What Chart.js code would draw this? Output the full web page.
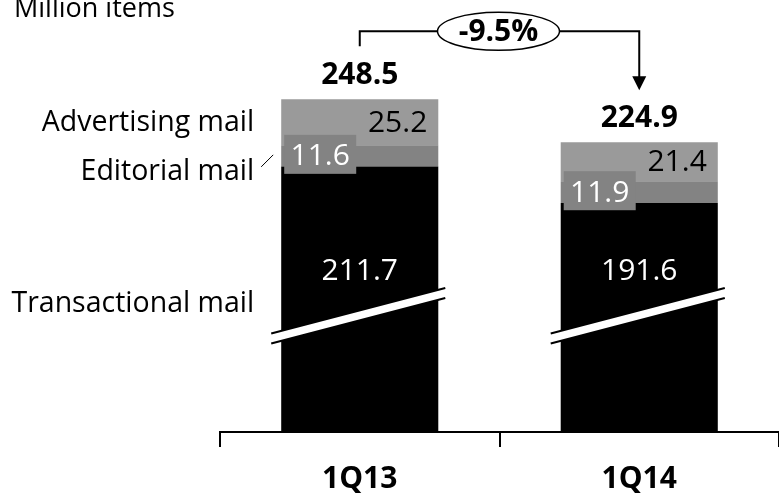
<!DOCTYPE html>
<html>
<head>
<meta charset="utf-8">
<script src="https://cdn.jsdelivr.net/npm/chart.js@4/dist/chart.umd.min.js"></script>
<style>
  html, body { margin: 0; padding: 0; background: #fff; }
  canvas { display: block; }
</style>
</head>
<body>
<canvas id="c" width="779" height="493"></canvas>
<script>
// Mail volumes, million items
const categories = ['1Q13', '1Q14'];
const transactional = [211.7, 191.6];
const editorial = [11.6, 11.9];
const advertising = [25.2, 21.4];
const totals = [248.5, 224.9];
const seriesNames = ['Transactional mail', 'Editorial mail', 'Advertising mail'];
const unitLabel = 'Million items';
const axisBreakAt = 130; // value where the bars are visually cut

const FONT = "'Open Sans', sans-serif";
const fmt = v => v.toFixed(1);
const change = (totals[1] / totals[0] - 1) * 100;
const changeLabel = (change > 0 ? '+' : '') + change.toFixed(1) + '%';

const COLORS = { transactional: '#000000', editorial: '#838383', advertising: '#9a9a9a' };

const annotate = {
  id: 'annotate',
  afterDatasetsDraw(chart) {
    const ctx = chart.ctx;
    const ys = chart.scales.y;
    const barsT = chart.getDatasetMeta(0).data.map(b => b.getProps(['x', 'y', 'base', 'width'], true));
    const barsE = chart.getDatasetMeta(1).data.map(b => b.getProps(['x', 'y', 'base', 'width'], true));
    const barsA = chart.getDatasetMeta(2).data.map(b => b.getProps(['x', 'y', 'base', 'width'], true));
    const breakY = ys.getPixelForValue(axisBreakAt);
    ctx.save();

    // axis break: slanted white band with black edges
    const slope = -0.261;
    barsT.forEach(bar => {
      const half = bar.width / 2;
      const x0 = bar.x - half - 10, x1 = bar.x + half + 7;
      const yc = x => breakY + (x - bar.x) * slope;
      const h = 5;
      ctx.beginPath();
      ctx.moveTo(x0, yc(x0) - h);
      ctx.lineTo(x1, yc(x1) - h);
      ctx.lineTo(x1, yc(x1) + h);
      ctx.lineTo(x0, yc(x0) + h);
      ctx.closePath();
      ctx.fillStyle = '#fff';
      ctx.fill();
      ctx.strokeStyle = '#000';
      ctx.lineWidth = 2;
      ctx.beginPath();
      ctx.moveTo(x0, yc(x0) - h); ctx.lineTo(x1, yc(x1) - h);
      ctx.moveTo(x0, yc(x0) + h); ctx.lineTo(x1, yc(x1) + h);
      ctx.stroke();
    });

    ctx.font = `30px ${FONT}`;
    // advertising values, right side of the top segment
    barsA.forEach((bar, i) => {
      const cy = (bar.y + bar.base) / 2;
      ctx.fillStyle = '#000';
      ctx.textAlign = 'right';
      ctx.textBaseline = 'middle';
      ctx.fillText(fmt(advertising[i]), bar.x + bar.width / 2 - 11, cy + 1);
    });
    // editorial values on a grey tag
    barsE.forEach((bar, i) => {
      const cy = (bar.y + bar.base) / 2;
      const bx = bar.x - bar.width / 2 + 3;
      ctx.fillStyle = COLORS.editorial;
      ctx.fillRect(bx, cy - 21, 72, 39);
      ctx.fillStyle = '#fff';
      ctx.textAlign = 'center';
      ctx.textBaseline = 'middle';
      ctx.fillText(fmt(editorial[i]), bx + 36, cy + 1);
    });
    // transactional values above the break
    barsT.forEach((bar, i) => {
      ctx.fillStyle = '#fff';
      ctx.textAlign = 'center';
      ctx.textBaseline = 'middle';
      ctx.fillText(fmt(transactional[i]), bar.x, breakY - 44);
    });
    // totals above the bars
    ctx.font = `bold 30px ${FONT}`;
    barsA.forEach((bar, i) => {
      ctx.fillStyle = '#000';
      ctx.textAlign = 'center';
      ctx.textBaseline = 'middle';
      ctx.fillText(fmt(totals[i]), bar.x, bar.y - 24);
    });

    // series names to the left of the first bar
    const a0 = barsA[0], e0 = barsE[0];
    const left0 = a0.x - a0.width / 2;
    ctx.font = `28.5px ${FONT}`;
    ctx.fillStyle = '#000';
    ctx.textAlign = 'right';
    ctx.textBaseline = 'alphabetic';
    const aMid = (a0.y + a0.base) / 2, eMid = (e0.y + e0.base) / 2;
    ctx.fillText(seriesNames[2], left0 - 27, aMid + 9);
    ctx.fillText(seriesNames[1], left0 - 27, eMid + 24);
    ctx.fillText(seriesNames[0], left0 - 27, breakY - 3);
    ctx.strokeStyle = '#000';
    ctx.lineWidth = 1;
    ctx.beginPath();
    ctx.moveTo(left0 - 20, eMid + 11);
    ctx.lineTo(left0 - 8, eMid - 1);
    ctx.stroke();

    // unit label
    ctx.font = `27px ${FONT}`;
    ctx.textAlign = 'left';
    ctx.fillText(unitLabel, 14, 17);

    // change bracket with arrow
    const xL = barsA[0].x, xR = barsA[1].x;
    const hy = barsA[0].y - 68;
    const cx = (xL + xR) / 2 - 1;
    const rx = 61, ry = 19;
    const tip = barsA[1].y - 52;
    ctx.lineWidth = 2;
    ctx.beginPath();
    ctx.moveTo(xL, barsA[0].y - 53);
    ctx.lineTo(xL, hy);
    ctx.lineTo(cx - rx, hy);
    ctx.moveTo(cx + rx, hy);
    ctx.lineTo(xR, hy);
    ctx.lineTo(xR, tip - 12);
    ctx.stroke();
    ctx.beginPath();
    ctx.moveTo(xR - 7, tip - 14);
    ctx.lineTo(xR + 7, tip - 14);
    ctx.lineTo(xR, tip);
    ctx.closePath();
    ctx.fillStyle = '#000';
    ctx.fill();
    ctx.lineWidth = 1.5;
    ctx.beginPath();
    ctx.ellipse(cx, hy, rx, ry, 0, 0, Math.PI * 2);
    ctx.stroke();
    ctx.font = `bold 30px ${FONT}`;
    ctx.textAlign = 'center';
    ctx.textBaseline = 'middle';
    ctx.fillText(changeLabel, cx, hy + 1);

    ctx.restore();
  }
};

new Chart(document.getElementById('c'), {
  type: 'bar',
  data: {
    labels: categories,
    datasets: [
      { label: seriesNames[0], data: transactional, backgroundColor: COLORS.transactional },
      { label: seriesNames[1], data: editorial, backgroundColor: COLORS.editorial },
      { label: seriesNames[2], data: advertising, backgroundColor: COLORS.advertising }
    ]
  },
  options: {
    responsive: false,
    animation: false,
    events: [],
    layout: { padding: { left: 220, right: -1, top: 0, bottom: 0 } },
    datasets: { bar: { categoryPercentage: 1, barPercentage: 0.562, borderWidth: 0 } },
    plugins: { legend: { display: false }, tooltip: { enabled: false } },
    scales: {
      x: {
        stacked: true,
        afterFit(scale) { scale.height = 61; },
        grid: { display: true, drawOnChartArea: false, offset: true, tickLength: 15, color: '#000', lineWidth: 2 },
        border: { display: true, color: '#000', width: 2 },
        ticks: { color: '#000', padding: 14, font: { family: FONT, size: 30, weight: 'bold' } }
      },
      y: {
        stacked: true,
        display: false,
        min: 66,
        max: 303
      }
    }
  },
  plugins: [annotate]
});
</script>
</body>
</html>
